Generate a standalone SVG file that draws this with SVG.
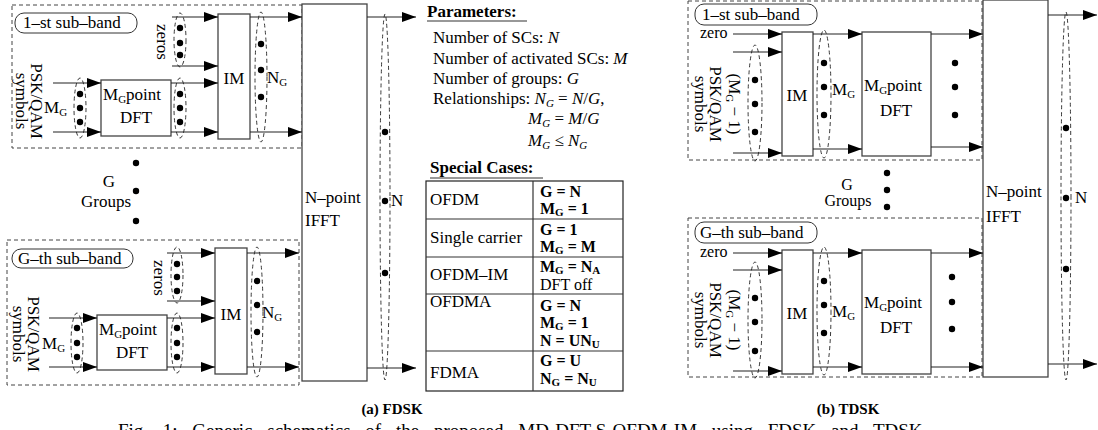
<svg xmlns="http://www.w3.org/2000/svg" width="1098" height="430" viewBox="0 0 1098 430">
<style>
text{font-family:"Liberation Serif","Times New Roman",serif;fill:#000;}
.t{font-size:17px;}
.m{font-size:16px;}
.s{font-size:16px;}
.sub{font-size:11px;}
.b{font-weight:bold;}
.i{font-style:italic;}
.box{fill:#fff;stroke:#444;stroke-width:1.3;}
.dbox{fill:none;stroke:#444;stroke-width:1;stroke-dasharray:4,3;}
.pill{fill:#fff;stroke:#333;stroke-width:1;}
.ell{fill:none;stroke:#222;stroke-width:0.9;stroke-dasharray:4,3;}
.ar{stroke:#222;stroke-width:1.2;fill:none;marker-end:url(#ah);}
.tl{stroke:#333;stroke-width:1.2;fill:none;}
</style>
<defs>
<marker id="ah" markerUnits="userSpaceOnUse" markerWidth="15" markerHeight="11" refX="14" refY="5" orient="auto">
<path d="M0,0 L14,5 L0,10 z" fill="#000"/>
</marker>
<circle id="d" r="3.2" fill="#000"/>
</defs>

<!-- ================= (a) FDSK ================= -->
<g id="fdsk-band1">
<rect class="dbox" x="12" y="5" width="290" height="143"/>
<rect class="pill" x="15" y="13" width="122" height="20" rx="9"/>
<text class="t" x="23" y="28">1–st sub–band</text>
<text class="t" transform="translate(31,101) rotate(90)" text-anchor="middle">PSK/QAM</text>
<text class="t" transform="translate(16,101) rotate(90)" text-anchor="middle">symbols</text>
<text class="t" x="44" y="113">M<tspan class="sub" dy="3">G</tspan></text>
<text class="t" transform="translate(157,42) rotate(90)" text-anchor="middle">zeros</text>
<text class="t" x="267" y="83">N<tspan class="sub" dy="3">G</tspan></text>
</g>
<g id="fdsk-dft1">
<rect class="box" x="101" y="80" width="70" height="56"/>
<text class="t" x="103" y="100">M<tspan class="sub" dy="3">G</tspan><tspan dy="-3">point</tspan></text>
<text class="t" x="136" y="123" text-anchor="middle">DFT</text>
</g>
<g id="fdsk-im1">
<rect class="box" x="218" y="14" width="32" height="125"/>
<text class="t" x="234" y="84" text-anchor="middle">IM</text>
</g>
<g id="fdsk-groups">
<text class="t" x="109" y="187" text-anchor="middle">G</text>
<text class="t" x="106" y="207" text-anchor="middle">Groups</text>
<use href="#d" x="136" y="163"/><use href="#d" x="136" y="191"/><use href="#d" x="136" y="221"/>
</g>
<g id="fdsk-bandG">
<rect class="dbox" x="7" y="240" width="292" height="145"/>
<rect class="pill" x="12" y="249" width="121" height="19" rx="9"/>
<text class="t" x="18" y="264">G–th sub–band</text>
<text class="t" transform="translate(28,334) rotate(90)" text-anchor="middle">PSK/QAM</text>
<text class="t" transform="translate(13,334) rotate(90)" text-anchor="middle">symbols</text>
<text class="t" x="42" y="349">M<tspan class="sub" dy="3">G</tspan></text>
<text class="t" transform="translate(154,278) rotate(90)" text-anchor="middle">zeros</text>
<text class="t" x="262" y="318">N<tspan class="sub" dy="3">G</tspan></text>
</g>
<g id="fdsk-dftG">
<rect class="box" x="97" y="315" width="70" height="55"/>
<text class="t" x="99" y="335">M<tspan class="sub" dy="3">G</tspan><tspan dy="-3">point</tspan></text>
<text class="t" x="132" y="358" text-anchor="middle">DFT</text>
</g>
<g id="fdsk-imG">
<rect class="box" x="215" y="248" width="32" height="126"/>
<text class="t" x="231" y="320" text-anchor="middle">IM</text>
</g>
<g id="fdsk-ifft">
<rect class="box" x="302" y="4" width="65" height="377"/>
<text class="t" x="305" y="203">N–point</text>
<text class="t" x="305" y="226">IFFT</text>
<text class="t" x="391" y="206">N</text>
</g>

<g id="fdsk-parameters">
<text class="t b" x="427" y="17">Parameters:</text>
<line class="tl" x1="427" y1="21" x2="527" y2="21"/>
<text class="t" x="433" y="43">Number of SCs: <tspan class="i">N</tspan></text>
<text class="t" x="433" y="64">Number of activated SCs: <tspan class="i">M</tspan></text>
<text class="t" x="433" y="84">Number of groups: <tspan class="i">G</tspan></text>
<text class="t" x="433" y="104">Relationships: <tspan class="i">N</tspan><tspan class="sub i" dy="3">G</tspan><tspan dy="-3"> = </tspan><tspan class="i">N</tspan>/<tspan class="i">G</tspan>,</text>
<text class="t" x="528" y="124"><tspan class="i">M</tspan><tspan class="sub i" dy="3">G</tspan><tspan dy="-3"> = </tspan><tspan class="i">M</tspan>/<tspan class="i">G</tspan></text>
<text class="t" x="528" y="146"><tspan class="i">M</tspan><tspan class="sub i" dy="3">G</tspan><tspan dy="-3"> ≤ </tspan><tspan class="i">N</tspan><tspan class="sub i" dy="3">G</tspan></text>
</g>

<g id="fdsk-special-cases">
<text class="t b" x="430" y="173">Special Cases:</text>
<line class="tl" x1="430" y1="178" x2="543" y2="178"/>
<rect x="426" y="181" width="197" height="210" fill="none" stroke="#222" stroke-width="1.2"/>
<line class="tl" x1="533" y1="181" x2="533" y2="391"/>
<line class="tl" x1="426" y1="219" x2="623" y2="219"/>
<line class="tl" x1="426" y1="257" x2="623" y2="257"/>
<line class="tl" x1="426" y1="294" x2="623" y2="294"/>
<line class="tl" x1="426" y1="351" x2="623" y2="351"/>
<text class="t" x="430" y="205">OFDM</text>
<text class="t" x="430" y="243">Single carrier</text>
<text class="t" x="430" y="280">OFDM–IM</text>
<text class="t" x="430" y="307">OFDMA</text>
<text class="t" x="430" y="378">FDMA</text>
<text class="m b" x="540" y="197">G = N</text>
<text class="m b" x="540" y="214">M<tspan class="sub" dy="2">G</tspan><tspan dy="-2"> = 1</tspan></text>
<text class="m b" x="540" y="235">G = 1</text>
<text class="m b" x="540" y="252">M<tspan class="sub" dy="2">G</tspan><tspan dy="-2"> = M</tspan></text>
<text class="m b" x="540" y="272">M<tspan class="sub" dy="2">G</tspan><tspan dy="-2"> = N</tspan><tspan class="sub" dy="2">A</tspan></text>
<text class="m" x="540" y="290">DFT off</text>
<text class="m b" x="540" y="311">G = N</text>
<text class="m b" x="540" y="328">M<tspan class="sub" dy="2">G</tspan><tspan dy="-2"> = 1</tspan></text>
<text class="m b" x="540" y="346">N = UN<tspan class="sub" dy="2">U</tspan></text>
<text class="m b" x="540" y="366">G = U</text>
<text class="m b" x="540" y="384">N<tspan class="sub" dy="2">G</tspan><tspan dy="-2"> = N</tspan><tspan class="sub" dy="2">U</tspan></text>
</g>

<!-- ================= (b) TDSK ================= -->
<g id="tdsk-band1">
<rect class="dbox" x="688" y="1" width="294" height="159"/>
<rect class="pill" x="695" y="4" width="122" height="21" rx="9"/>
<text class="t" x="702" y="20">1–st sub–band</text>
<text class="s" x="700" y="38">zero</text>
<text class="t" transform="translate(729,104) rotate(90)" text-anchor="middle">(M<tspan class="sub" dy="3">G</tspan><tspan dy="-3"> − 1)</tspan></text>
<text class="t" transform="translate(710,104) rotate(90)" text-anchor="middle">PSK/QAM</text>
<text class="t" transform="translate(695,104) rotate(90)" text-anchor="middle">symbols</text>
<text class="t" x="832" y="95">M<tspan class="sub" dy="3">G</tspan></text>
<use href="#d" x="955" y="63"/><use href="#d" x="955" y="87"/><use href="#d" x="955" y="115"/>
</g>
<g id="tdsk-im1">
<rect class="box" x="782" y="32" width="31" height="124"/>
<text class="t" x="797" y="101" text-anchor="middle">IM</text>
</g>
<g id="tdsk-dft1">
<rect class="box" x="862" y="32" width="69" height="124"/>
<text class="t" x="864" y="91">M<tspan class="sub" dy="3">G</tspan><tspan dy="-3">point</tspan></text>
<text class="t" x="896" y="116" text-anchor="middle">DFT</text>
</g>
<g id="tdsk-groups">
<text class="s" x="847" y="190" text-anchor="middle">G</text>
<text class="s" x="848" y="206" text-anchor="middle">Groups</text>
<use href="#d" x="887" y="173"/><use href="#d" x="887" y="190"/><use href="#d" x="887" y="207"/>
</g>
<g id="tdsk-bandG">
<rect class="dbox" x="688" y="218" width="294" height="159"/>
<rect class="pill" x="695" y="222" width="122" height="21" rx="9"/>
<text class="t" x="700" y="238">G–th sub–band</text>
<text class="s" x="700" y="257">zero</text>
<text class="t" transform="translate(729,320) rotate(90)" text-anchor="middle">(M<tspan class="sub" dy="3">G</tspan><tspan dy="-3"> − 1)</tspan></text>
<text class="t" transform="translate(710,320) rotate(90)" text-anchor="middle">PSK/QAM</text>
<text class="t" transform="translate(695,320) rotate(90)" text-anchor="middle">symbols</text>
<text class="t" x="832" y="317">M<tspan class="sub" dy="3">G</tspan></text>
<use href="#d" x="952" y="277"/><use href="#d" x="952" y="302"/><use href="#d" x="952" y="329"/>
</g>
<g id="tdsk-imG">
<rect class="box" x="782" y="250" width="31" height="124"/>
<text class="t" x="797" y="319" text-anchor="middle">IM</text>
</g>
<g id="tdsk-dftG">
<rect class="box" x="862" y="250" width="69" height="124"/>
<text class="t" x="864" y="308">M<tspan class="sub" dy="3">G</tspan><tspan dy="-3">point</tspan></text>
<text class="t" x="896" y="333" text-anchor="middle">DFT</text>
</g>
<g id="tdsk-ifft">
<rect class="box" x="983" y="0" width="65" height="377"/>
<text class="t" x="986" y="197">N–point</text>
<text class="t" x="986" y="222">IFFT</text>
<text class="t" x="1075" y="203">N</text>
</g>

<!-- ================= connectors ================= -->
<g id="connectors">
<line class="ar" x1="53" y1="83" x2="101" y2="83"/>
<line class="ar" x1="53" y1="132" x2="101" y2="132"/>
<line class="ar" x1="171" y1="83" x2="218" y2="83"/>
<line class="ar" x1="171" y1="132" x2="218" y2="132"/>
<line class="ar" x1="172" y1="17" x2="218" y2="17"/>
<line class="ar" x1="172" y1="66" x2="218" y2="66"/>
<line class="ar" x1="250" y1="17" x2="302" y2="17"/>
<line class="ar" x1="250" y1="132" x2="302" y2="132"/>
<line class="ar" x1="49" y1="318" x2="97" y2="318"/>
<line class="ar" x1="49" y1="367" x2="97" y2="367"/>
<line class="ar" x1="167" y1="318" x2="215" y2="318"/>
<line class="ar" x1="167" y1="367" x2="215" y2="367"/>
<line class="ar" x1="167" y1="253" x2="215" y2="253"/>
<line class="ar" x1="167" y1="301" x2="215" y2="301"/>
<line class="ar" x1="247" y1="253" x2="299" y2="253"/>
<line class="ar" x1="247" y1="367" x2="299" y2="367"/>
<line class="ar" x1="367" y1="17" x2="416" y2="17"/>
<line class="ar" x1="367" y1="368" x2="416" y2="368"/>
<line class="ar" x1="733" y1="34" x2="782" y2="34"/>
<line class="ar" x1="733" y1="52" x2="782" y2="52"/>
<line class="ar" x1="733" y1="153" x2="782" y2="153"/>
<line class="ar" x1="813" y1="34" x2="862" y2="34"/>
<line class="ar" x1="813" y1="149" x2="862" y2="149"/>
<line class="ar" x1="931" y1="34" x2="983" y2="34"/>
<line class="ar" x1="931" y1="147" x2="983" y2="147"/>
<line class="ar" x1="733" y1="253" x2="782" y2="253"/>
<line class="ar" x1="733" y1="270" x2="782" y2="270"/>
<line class="ar" x1="733" y1="371" x2="782" y2="371"/>
<line class="ar" x1="813" y1="253" x2="862" y2="253"/>
<line class="ar" x1="813" y1="367" x2="862" y2="367"/>
<line class="ar" x1="931" y1="253" x2="983" y2="253"/>
<line class="ar" x1="931" y1="367" x2="983" y2="367"/>
<line class="ar" x1="1048" y1="15" x2="1097" y2="15"/>
<line class="ar" x1="1048" y1="364" x2="1097" y2="364"/>

<ellipse class="ell" cx="80" cy="108" rx="6" ry="30"/>
<use href="#d" x="80" y="94"/><use href="#d" x="80" y="108"/><use href="#d" x="80" y="122"/>
<ellipse class="ell" cx="180" cy="108" rx="6" ry="30"/>
<use href="#d" x="180" y="94"/><use href="#d" x="180" y="108"/><use href="#d" x="180" y="122"/>
<ellipse class="ell" cx="180" cy="40" rx="6" ry="27"/>
<use href="#d" x="180" y="28"/><use href="#d" x="180" y="43"/><use href="#d" x="180" y="55"/>
<ellipse class="ell" cx="261" cy="77" rx="6" ry="65"/>
<use href="#d" x="261" y="44"/><use href="#d" x="261" y="70"/><use href="#d" x="261" y="97"/>

<ellipse class="ell" cx="77" cy="343" rx="6" ry="30"/>
<use href="#d" x="77" y="328"/><use href="#d" x="77" y="343"/><use href="#d" x="77" y="357"/>
<ellipse class="ell" cx="177" cy="343" rx="6" ry="30"/>
<use href="#d" x="177" y="328"/><use href="#d" x="177" y="343"/><use href="#d" x="177" y="357"/>
<ellipse class="ell" cx="177" cy="275" rx="6" ry="28"/>
<use href="#d" x="177" y="264"/><use href="#d" x="177" y="277"/><use href="#d" x="177" y="291"/>
<ellipse class="ell" cx="257" cy="312" rx="6" ry="65"/>
<use href="#d" x="257" y="281"/><use href="#d" x="257" y="305"/><use href="#d" x="257" y="332"/>

<ellipse class="ell" cx="385" cy="197" rx="5" ry="183"/>
<use href="#d" x="385" y="132"/><use href="#d" x="385" y="201"/><use href="#d" x="385" y="273"/>

<ellipse class="ell" cx="755" cy="103" rx="7" ry="58"/>
<use href="#d" x="755" y="80"/><use href="#d" x="755" y="104"/><use href="#d" x="755" y="132"/>
<ellipse class="ell" cx="824" cy="94" rx="7" ry="64"/>
<use href="#d" x="824" y="63"/><use href="#d" x="824" y="87"/><use href="#d" x="824" y="115"/>
<ellipse class="ell" cx="755" cy="320" rx="7" ry="58"/>
<use href="#d" x="755" y="298"/><use href="#d" x="755" y="322"/><use href="#d" x="755" y="351"/>
<ellipse class="ell" cx="824" cy="311" rx="7" ry="64"/>
<use href="#d" x="824" y="281"/><use href="#d" x="824" y="305"/><use href="#d" x="824" y="333"/>

<ellipse class="ell" cx="1066" cy="196" rx="5" ry="184"/>
<use href="#d" x="1066" y="128"/><use href="#d" x="1066" y="198"/><use href="#d" x="1066" y="269"/>
</g>

<g id="captions">
<text class="b" x="392" y="414" text-anchor="middle" font-size="15">(a) FDSK</text>
<text class="b" x="848" y="414" text-anchor="middle" font-size="15">(b) TDSK</text>
<text x="118" y="437" font-size="19" word-spacing="10">Fig. 1: Generic schematics of the proposed MD-DFT-S-OFDM-IM using FDSK and TDSK</text>
</g>
</svg>
